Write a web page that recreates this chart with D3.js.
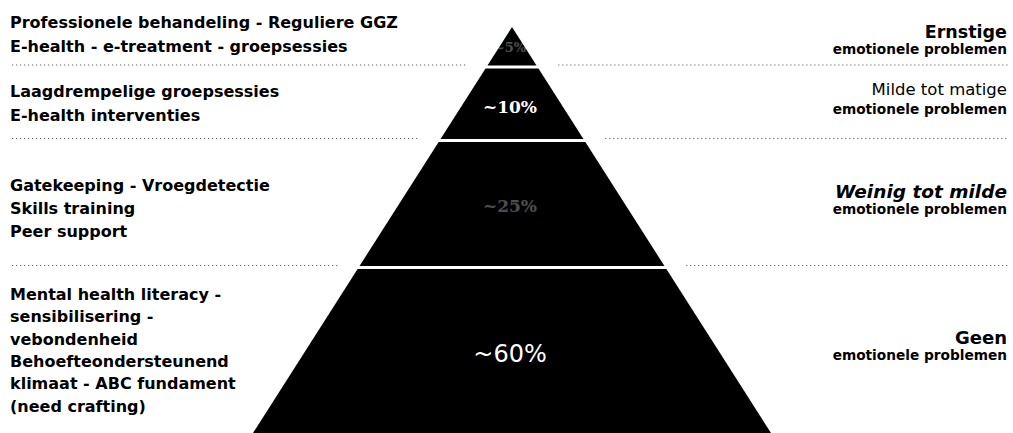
<!DOCTYPE html>
<html>
<head>
<meta charset="utf-8">
<script src="https://cdn.jsdelivr.net/npm/d3@7"></script>
<style>
  body { margin: 0; background: #fff; }
  svg { display: block; }
  .left-label { font-family: "DejaVu Sans", sans-serif; font-weight: bold; font-size: 16px; fill: #000; }
  .sub-label { font-family: "DejaVu Sans", sans-serif; font-weight: bold; font-size: 13.7px; fill: #000; }
</style>
</head>
<body>
<div id="chart-area"></div>
<script>

// Data
var tierShares = [5, 10, 25, 60];

var severityTitles = ["Ernstige", "Milde tot matige", "Weinig tot milde", "Geen"];
var severitySub = "emotionele problemen";

var interventions = [
  ["Professionele behandeling - Reguliere GGZ", "E-health - e-treatment - groepsessies"],
  ["Laagdrempelige groepsessies", "E-health interventies"],
  ["Gatekeeping - Vroegdetectie", "Skills training", "Peer support"],
  ["Mental health literacy -", "sensibilisering -", "vebondenheid", "Behoefteondersteunend",
   "klimaat - ABC fundament", "(need crafting)"]
];

// Layout
var width = 1013, height = 433;
var apexX = 512;

var svg = d3.select("#chart-area").append("svg")
    .attr("width", width)
    .attr("height", height);

// tier index -> y of boundary
var y = d3.scaleLinear()
    .domain([0, 1, 2, 3, 4])
    .range([27, 67, 140.5, 267.5, 433]);

// y -> half width of the pyramid
var half = d3.scaleLinear()
    .domain([27, 433])
    .range([0, 259]);

var gap = 1.5;

var tiers = tierShares.map(function(d, i) {
  return {
    share: d,
    top: i == 0 ? y(0) : y(i) + gap,
    bottom: i == tierShares.length - 1 ? y(i + 1) : y(i + 1) - gap
  };
});

// pyramid
svg.append("g").selectAll("path")
    .data(tiers)
    .enter()
    .append("path")
    .attr("fill", "#000")
    .attr("d", function(d) {
      return d3.line()([
        [apexX - half(d.top), d.top],
        [apexX + half(d.top), d.top],
        [apexX + half(d.bottom), d.bottom],
        [apexX - half(d.bottom), d.bottom]
      ]) + "Z";
    });

// dotted separators
var sepY = [1, 2, 3].map(function(i) { return y(i) - 2; });
var sepGap = 22;

var seps = svg.append("g")
    .attr("stroke", "#666")
    .attr("stroke-width", 1.2)
    .attr("stroke-dasharray", "1.2,2.8");

seps.selectAll(".sep-left")
    .data(sepY)
    .enter()
    .append("line")
    .attr("class", "sep-left")
    .attr("x1", 12)
    .attr("x2", d => apexX - half(d) - sepGap)
    .attr("y1", d => d)
    .attr("y2", d => d);

seps.selectAll(".sep-right")
    .data(sepY)
    .enter()
    .append("line")
    .attr("class", "sep-right")
    .attr("x1", d => apexX + half(d) + sepGap)
    .attr("x2", 1008)
    .attr("y1", d => d)
    .attr("y2", d => d);

// percentage labels inside the pyramid
var shareY = [48, 108, 207, 355];
var shareStyle = [
  {font: "DejaVu Serif", size: 13, weight: "bold", opacity: 0.3},
  {font: "DejaVu Serif", size: 17, weight: "bold", opacity: 1},
  {font: "DejaVu Serif", size: 17, weight: "bold", opacity: 0.3},
  {font: "DejaVu Sans", size: 24, weight: "normal", opacity: 1}
];

svg.append("g").selectAll("text")
    .data(tiers)
    .enter()
    .append("text")
    .attr("x", apexX - 2)
    .attr("y", (d, i) => shareY[i])
    .attr("text-anchor", "middle")
    .attr("dominant-baseline", "middle")
    .attr("fill", "#fff")
    .attr("font-family", (d, i) => shareStyle[i].font)
    .attr("font-size", (d, i) => shareStyle[i].size)
    .attr("font-weight", (d, i) => shareStyle[i].weight)
    .attr("opacity", (d, i) => shareStyle[i].opacity)
    .text(d => "~" + d.share + "%");

// left: interventions
var leftBase = [28, 97, 191, 300];
var leftStep = [24, 23.5, 23, 22.3];

var leftGroups = svg.append("g").selectAll("text")
    .data(interventions)
    .enter()
    .append("text")
    .attr("class", "left-label");

leftGroups.selectAll("tspan")
    .data((d, i) => d.map(function(line, j) { return {line: line, y: leftBase[i] + j * leftStep[i]}; }))
    .enter()
    .append("tspan")
    .attr("x", 10)
    .attr("y", d => d.y)
    .text(d => d.line);

// right: severity
var titleBase = [38, 95, 198, 344];
var subOffset = [15.5, 18.5, 16, 16];
var titleStyle = [
  {size: 17.5, weight: "bold", style: "normal"},
  {size: 16.5, weight: "normal", style: "normal"},
  {size: 18.5, weight: "bold", style: "italic"},
  {size: 18, weight: "bold", style: "normal"}
];

var right = svg.append("g");

right.selectAll(".title")
    .data(severityTitles)
    .enter()
    .append("text")
    .attr("class", "title")
    .attr("x", 1007)
    .attr("y", (d, i) => titleBase[i])
    .attr("text-anchor", "end")
    .attr("font-family", "DejaVu Sans")
    .attr("font-size", (d, i) => titleStyle[i].size)
    .attr("font-weight", (d, i) => titleStyle[i].weight)
    .attr("font-style", (d, i) => titleStyle[i].style)
    .attr("fill", "#000")
    .text(d => d);

right.selectAll(".sub-label")
    .data(severityTitles)
    .enter()
    .append("text")
    .attr("class", "sub-label")
    .attr("x", 1007)
    .attr("y", (d, i) => titleBase[i] + subOffset[i])
    .attr("text-anchor", "end")
    .text(severitySub);

</script>
</body>
</html>
